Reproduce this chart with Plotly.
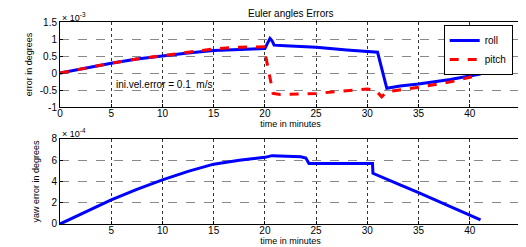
import plotly.graph_objects as go

# ---- data (top plot values in units of 1e-3 deg, bottom in 1e-4 deg) ----
t_roll = [0, 2.5, 5, 7.5, 10, 12.5, 15, 17.5, 20, 20.3, 20.5, 20.7, 20.9, 22, 25, 28, 31.0, 31.9, 33.2, 35, 38.1, 41.05]
roll_e3 = [0, 0.15, 0.29, 0.41, 0.51, 0.59, 0.66, 0.70, 0.72, 0.90, 1.02, 0.95, 0.82, 0.80, 0.76, 0.68, 0.61, -0.45, -0.38, -0.32, -0.19, -0.03]

t_pitch = [0, 2.5, 5, 7.5, 10, 12.5, 15, 17.5, 19.9, 20.8, 21.5, 25, 28, 30, 30.8, 31.4, 31.9, 33.2, 35, 38.1, 41.05]
pitch_e3 = [0, 0.15, 0.29, 0.41, 0.51, 0.62, 0.71, 0.76, 0.77, -0.60, -0.63, -0.60, -0.53, -0.47, -0.50, -0.70, -0.55, -0.50, -0.42, -0.26, -0.05]

t_yaw = [0, 2.5, 5, 7.5, 10, 12.5, 15, 17.5, 20, 20.7, 22, 23.5, 24.0, 24.3, 27, 30.5, 30.55, 31.5, 33.2, 35, 38, 41.05]
yaw_e4 = [0, 1.15, 2.26, 3.25, 4.15, 4.95, 5.63, 6.00, 6.27, 6.43, 6.40, 6.33, 6.20, 5.70, 5.70, 5.70, 4.77, 4.40, 3.67, 2.95, 1.70, 0.38]

x_ticks_top = [0, 5, 10, 15, 20, 25, 30, 35, 40, 45]
x_ticks_bottom = [5, 10, 15, 20, 25, 30, 35, 40, 45]
y_ticks_top = [-1, -0.5, 0, 0.5, 1, 1.5]
y_tick_text_top = ["-1", "-0.5", "0", "0.5", "1", "1.5"]
y_ticks_bottom = [0, 2, 4, 6, 8]

FONT = "Liberation Sans, Arial, sans-serif"

fig = go.Figure()
fig.add_trace(go.Scatter(x=t_roll, y=roll_e3, mode="lines", name="roll",
                         line=dict(color="#0000ff", width=3), xaxis="x", yaxis="y"))
fig.add_trace(go.Scatter(x=t_pitch, y=pitch_e3, mode="lines", name="pitch",
                         line=dict(color="#ff0000", width=3, dash="dash"), xaxis="x", yaxis="y"))
fig.add_trace(go.Scatter(x=t_yaw, y=yaw_e4, mode="lines", name="yaw", showlegend=False,
                         line=dict(color="#0000ff", width=3), xaxis="x2", yaxis="y2"))

common_x = dict(range=[0, 45], showline=True, mirror=True, linecolor="black", linewidth=1,
                showgrid=True, gridcolor="#333333", griddash="dot", gridwidth=1,
                ticks="inside", ticklen=3, tickcolor="black", zeroline=False,
                automargin=True, ticklabelstandoff=-3,
                tickfont=dict(family=FONT, size=10, color="black"))
common_y = dict(showline=True, mirror=True, linecolor="black", linewidth=1,
                showgrid=True, gridcolor="#888888", griddash="dash", gridwidth=1,
                ticks="inside", ticklen=3, tickcolor="black", zeroline=False,
                automargin=True,
                tickfont=dict(family=FONT, size=10, color="black"))

# the page body adds an 8 px offset, so the figure is sized/margined to compensate
fig.update_layout(
    template="none",
    width=518, height=239,
    margin=dict(l=52, r=5, t=14, b=23, autoexpand=False),
    paper_bgcolor="white", plot_bgcolor="white",
    font=dict(family=FONT, size=10, color="black"),
    xaxis=dict(common_x, domain=[0, 1], anchor="y", tickvals=x_ticks_top,
               title=dict(text="time in minutes", font=dict(size=9), standoff=0)),
    yaxis=dict(common_y, domain=[0.579, 1.0], anchor="x", range=[-1, 1.5],
               tickvals=y_ticks_top, ticktext=y_tick_text_top,
               title=dict(text="error in degrees", font=dict(size=9), standoff=5)),
    xaxis2=dict(common_x, domain=[0, 1], anchor="y2", tickvals=x_ticks_bottom,
                title=dict(text="time in minutes", font=dict(size=9), standoff=0)),
    yaxis2=dict(common_y, domain=[0.0, 0.421], anchor="x2", range=[0, 8],
                tickvals=y_ticks_bottom,
                title=dict(text="yaw error in degrees", font=dict(size=9), standoff=10)),
    legend=dict(x=0.982, y=0.985, xanchor="right", yanchor="top",
                bgcolor="white", bordercolor="black", borderwidth=1,
                font=dict(family=FONT, size=10), tracegroupgap=0,
                itemwidth=30, entrywidth=45, entrywidthmode="pixels"),
    showlegend=True,
)

fig.add_annotation(text="Euler angles Errors", xref="paper", yref="paper",
                   x=0.5, y=1.0, yanchor="bottom", yshift=1, showarrow=False,
                   font=dict(family=FONT, size=10))
fig.add_annotation(text="× 10<sup>-3</sup>", xref="paper", yref="paper",
                   x=0.0, y=1.0, xanchor="left", yanchor="bottom", yshift=-3,
                   showarrow=False, font=dict(family=FONT, size=9))
fig.add_annotation(text="× 10<sup>-4</sup>", xref="paper", yref="paper",
                   x=0.0, y=0.421, xanchor="left", yanchor="bottom", yshift=-2,
                   showarrow=False, font=dict(family=FONT, size=9))
fig.add_annotation(text="ini.vel.error = 0.1  m/s", xref="x", yref="y",
                   x=5.3, y=-0.35, xanchor="left", showarrow=False,
                   font=dict(family=FONT, size=10))

fig.write_html("out.html")
